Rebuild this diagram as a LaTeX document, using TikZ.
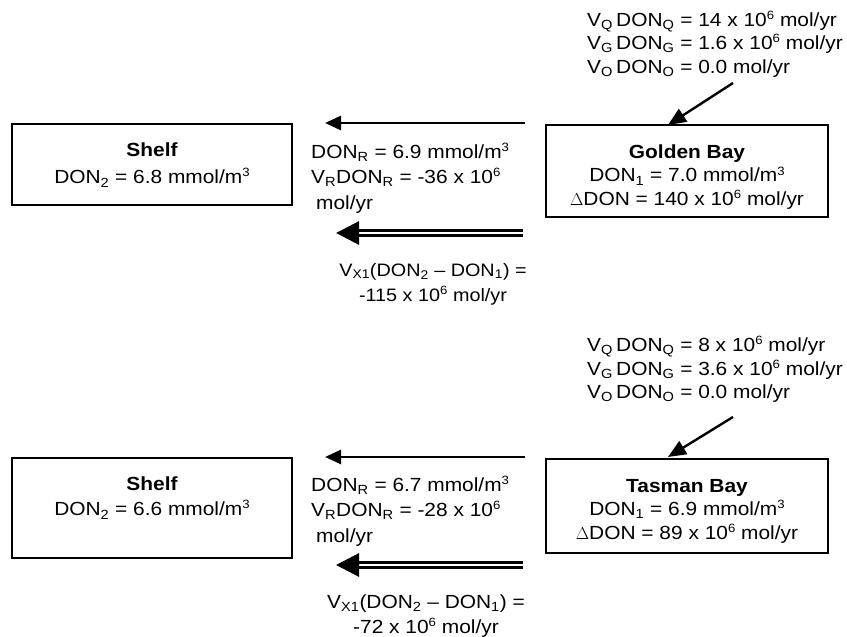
\documentclass[tikz,border=0pt]{standalone}
\usepackage{fontspec}
\setmainfont{Liberation Sans}[FakeStretch=1.1]
\usetikzlibrary{arrows.meta,calc}
\newcommand{\sbs}[1]{\textsubscript{#1}}
\newcommand{\sps}[1]{\raisebox{0.36em}{\fontsize{12}{12}\selectfont #1}}
\begin{document}
\begin{tikzpicture}[x=1pt,y=-1pt,
  txt/.style={inner sep=0pt,font=\fontsize{19}{23.5}\selectfont},
  boxnode/.style={draw,line width=1.6pt,inner sep=0pt},
  single/.style={line width=2.8pt,-{Triangle[length=16pt,width=14pt]}},
  dbl/.style={double,line width=3pt,double distance=1.8pt,-{Triangle[length=23pt,width=23pt]}},
  diag/.style={line width=2.4pt,-{Triangle[length=18pt,width=15pt]}}]
\useasboundingbox (0,0) rectangle (847,637);

% ---------- Golden Bay ----------
\node[boxnode,minimum width=280pt,minimum height=81pt] (shelfA) at (152,164.5) {};
\node[txt,align=center,font=\fontsize{19}{27}\selectfont] (shelfAt) at (152,165) {\textbf{Shelf}\\DON\sbs{2} = 6.8 mmol/m\sps{3}};
\node[boxnode,minimum width=282pt,minimum height=92pt] (gb) at (687,171) {};
\node[txt,align=center] (gbt) at (687,177)
  {\textbf{Golden Bay}\\DON\sbs{1} = 7.0 mmol/m\sps{3}\\$\Delta$DON = 140 x 10\sps{6} mol/yr};
\node[txt,align=left,anchor=west] (fluxA) at (587,44)
  {V\sbs{Q}\,DON\sbs{Q} = 14 x 10\sps{6} mol/yr\\V\sbs{G}\,DON\sbs{G} = 1.6 x 10\sps{6} mol/yr\\V\sbs{O}\,DON\sbs{O} = 0.0 mol/yr};
\node[txt,align=left,anchor=west,font=\fontsize{19}{25.5}\selectfont] (resA) at (311,178)
  {DON\sbs{R} = 6.9 mmol/m\sps{3}\\V\sbs{R}DON\sbs{R} = -36 x 10\sps{6}\\\hspace{5pt}mol/yr};
\node[txt,align=center,font=\fontsize{18}{25}\selectfont] (mixA) at (433,284)
  {V\sbs{X1}(DON\sbs{2} -- DON\sbs{1}) =\\-115 x 10\sps{6} mol/yr};
\coordinate (rA1) at (525,123);
\coordinate (rA2) at (325,123);
\coordinate (xA1) at (523,233);
\coordinate (xA2) at (336,233);
\coordinate (dA1) at (733,83);
\coordinate (dA2) at (668,125);
\draw[single] (rA1) -- (rA2);
\draw[dbl] (xA1) -- (xA2);
\draw[diag] (dA1) -- (dA2);

% ---------- Tasman Bay ----------
\node[boxnode,minimum width=280pt,minimum height=100pt] (shelfB) at (152,508) {};
\node[txt,align=center,font=\fontsize{19}{25}\selectfont] (shelfBt) at (152,498) {\textbf{Shelf}\\DON\sbs{2} = 6.6 mmol/m\sps{3}};
\node[boxnode,minimum width=282pt,minimum height=94pt] (tb) at (687,506) {};
\node[txt,align=center] (tbt) at (687,511)
  {\textbf{Tasman Bay}\\DON\sbs{1} = 6.9 mmol/m\sps{3}\\$\Delta$DON = 89 x 10\sps{6} mol/yr};
\node[txt,align=left,anchor=west] (fluxB) at (587,369.5)
  {V\sbs{Q}\,DON\sbs{Q} = 8 x 10\sps{6} mol/yr\\V\sbs{G}\,DON\sbs{G} = 3.6 x 10\sps{6} mol/yr\\V\sbs{O}\,DON\sbs{O} = 0.0 mol/yr};
\node[txt,align=left,anchor=west,font=\fontsize{19}{25.5}\selectfont] (resB) at (311,511)
  {DON\sbs{R} = 6.7 mmol/m\sps{3}\\V\sbs{R}DON\sbs{R} = -28 x 10\sps{6}\\\hspace{5pt}mol/yr};
\node[txt,align=center,font=\fontsize{19}{25}\selectfont] (mixB) at (426,616)
  {V\sbs{X1}(DON\sbs{2} -- DON\sbs{1}) =\\-72 x 10\sps{6} mol/yr};
\coordinate (rB1) at (525,457);
\coordinate (rB2) at (325,457);
\coordinate (xB1) at (523,565);
\coordinate (xB2) at (336,565);
\coordinate (dB1) at (733,417);
\coordinate (dB2) at (668,457);
\draw[single] (rB1) -- (rB2);
\draw[dbl] (xB1) -- (xB2);
\draw[diag] (dB1) -- (dB2);
\end{tikzpicture}
\end{document}
